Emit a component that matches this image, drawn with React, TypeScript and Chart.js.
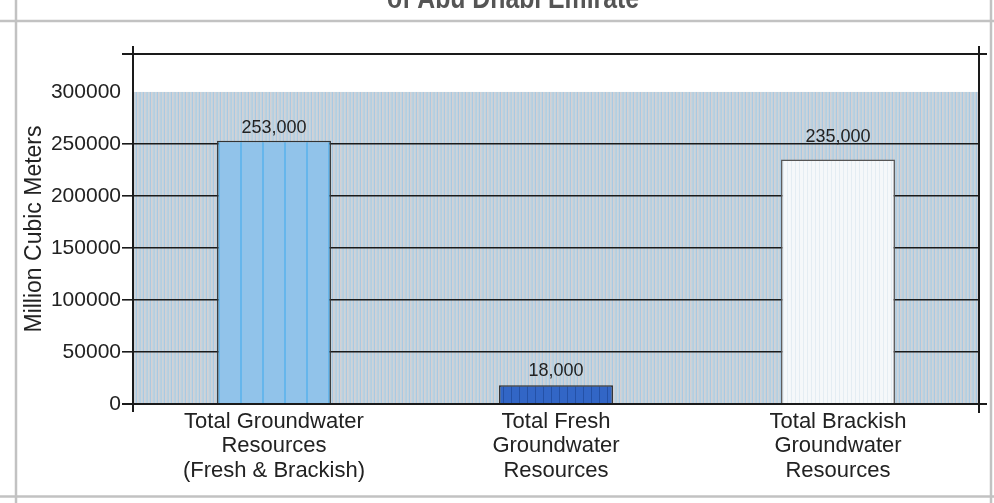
import React, { useEffect, useRef } from "react";
import { Chart, registerables } from "chart.js";

Chart.register(...registerables);

// ---- data ----
const categories: string[][] = [
  ["Total Groundwater", "Resources", "(Fresh & Brackish)"],
  ["Total Fresh", "Groundwater", "Resources"],
  ["Total Brackish", "Groundwater", "Resources"],
];
const values: number[] = [253000, 18000, 235000];
const yTicks: number[] = [0, 50000, 100000, 150000, 200000, 250000, 300000];
const yAxisMax = 336500;
const yTitle = "Million Cubic Meters";
const titleText = "of Abu Dhabi Emirate";

const FONT = "'Liberation Sans', Arial, Helvetica, sans-serif";

function stripePattern(ctx: CanvasRenderingContext2D, stripes: [string, number][]) {
  const w = stripes.reduce((s, [, n]) => s + n, 0);
  const c = document.createElement("canvas");
  c.width = w;
  c.height = 4;
  const g = c.getContext("2d")!;
  let x = 0;
  for (const [col, n] of stripes) {
    g.fillStyle = col;
    g.fillRect(x, 0, n, 4);
    x += n;
  }
  return ctx.createPattern(c, "repeat")!;
}

const fmt = (v: number) => v.toLocaleString("en-US");

export default function App() {
  const ref = useRef<HTMLCanvasElement>(null);

  useEffect(() => {
    const canvas = ref.current!;
    const ctx2 = canvas.getContext("2d")!;
    const bgPattern = stripePattern(ctx2, [
      ["#b3cfe2", 1], ["#cfd3d8", 1], ["#c3d3de", 1], ["#a9c9e2", 1],
      ["#d5d0d3", 1], ["#c6d4dd", 1], ["#bccfdd", 1],
    ]);
    const barPatterns = [
      stripePattern(ctx2, [["#91c3ea", 20], ["#66b6ec", 2]]),
      stripePattern(ctx2, [["#3266c6", 7], ["#2451a6", 1]]),
      stripePattern(ctx2, [["#f5f8fa", 3], ["#e4edf3", 1]]),
    ];
    const borderColors = ["#333333", "#2a2a2a", "#555555"];
    const labelOffsets = [13, 14, 23];

    const framePlugin = {
      id: "frame",
      beforeDraw(chart: any) {
        const { ctx, chartArea: a, scales } = chart;
        const y = scales.y;
        ctx.save();
        ctx.fillStyle = "#ffffff";
        ctx.fillRect(0, 0, chart.width, chart.height);
        // outer frame
        ctx.strokeStyle = "#c2c2c2";
        ctx.lineWidth = 2.5;
        ctx.beginPath();
        ctx.moveTo(16, 0); ctx.lineTo(16, chart.height);
        ctx.moveTo(991, 0); ctx.lineTo(991, chart.height);
        ctx.moveTo(0, 21); ctx.lineTo(chart.width, 21);
        ctx.moveTo(0, 496.5); ctx.lineTo(chart.width, 496.5);
        ctx.stroke();
        // title (cut at the top)
        ctx.fillStyle = "#555555";
        ctx.font = `bold 30px 'Liberation Sans Narrow', ${FONT}`;
        const w = ctx.measureText(titleText).width;
        ctx.translate(513, 8);
        ctx.scale(252 / w, 1);
        ctx.textAlign = "center";
        ctx.textBaseline = "alphabetic";
        ctx.fillText(titleText, 0, 0);
        ctx.restore();
        // striped plot background
        ctx.save();
        const yTop = y.getPixelForValue(yTicks[yTicks.length - 1]);
        ctx.fillStyle = bgPattern;
        ctx.fillRect(a.left, yTop, a.right - a.left, a.bottom - yTop);
        ctx.restore();
      },
      afterDatasetsDraw(chart: any) {
        const { ctx, chartArea: a } = chart;
        ctx.save();
        ctx.strokeStyle = "#1a1a1a";
        ctx.lineWidth = 2;
        ctx.beginPath();
        ctx.moveTo(a.left - 11, a.top); ctx.lineTo(a.right + 8, a.top);
        ctx.moveTo(a.left - 11, a.bottom); ctx.lineTo(a.right + 8, a.bottom);
        ctx.moveTo(a.left, a.top - 8); ctx.lineTo(a.left, a.bottom + 8);
        ctx.moveTo(a.right, a.top - 8); ctx.lineTo(a.right, a.bottom + 9);
        ctx.stroke();
        // value labels
        const meta = chart.getDatasetMeta(0);
        ctx.fillStyle = "#222222";
        ctx.font = `18px ${FONT}`;
        ctx.textAlign = "center";
        ctx.textBaseline = "middle";
        meta.data.forEach((bar: any, i: number) => {
          ctx.fillText(fmt(values[i]), bar.x, bar.y - labelOffsets[i]);
        });
        ctx.restore();
      },
    };

    const chart = new Chart(canvas, {
      type: "bar",
      data: {
        labels: categories,
        datasets: [
          {
            data: values,
            backgroundColor: barPatterns,
            borderColor: borderColors,
            borderWidth: 1.5,
            categoryPercentage: 1,
            barPercentage: 0.404,
          },
        ],
      },
      options: {
        responsive: false,
        animation: false,
        devicePixelRatio: 1,
        layout: { padding: { left: 0, right: 15, top: 54, bottom: 0 } },
        plugins: {
          legend: { display: false },
          tooltip: { enabled: false },
          title: { display: false },
        },
        scales: {
          x: {
            grid: { display: false, drawTicks: false },
            border: { display: false },
            ticks: {
              color: "#222222",
              font: { family: FONT, size: 22, lineHeight: 1.1 },
              padding: 6,
              maxRotation: 0,
              autoSkip: false,
            },
            afterFit: (s: any) => {
              s.height = 99;
            },
          },
          y: {
            min: 0,
            max: yAxisMax,
            afterBuildTicks: (s: any) => {
              s.ticks = yTicks.map((v) => ({ value: v }));
            },
            afterFit: (s: any) => {
              s.width = 133;
            },
            border: { display: false },
            grid: {
              color: (c: any) =>
                c.tick && (c.tick.value === yTicks[yTicks.length - 1] || c.tick.value === 0)
                  ? "rgba(0,0,0,0)"
                  : "#1a1a1a",
              lineWidth: 1.6,
              tickLength: 11,
            },
            ticks: {
              color: "#222222",
              font: { family: FONT, size: 21 },
              padding: 1,
              callback: (v: any) => String(v),
            },
            title: {
              display: true,
              text: yTitle,
              color: "#222222",
              font: { family: FONT, size: 23, lineHeight: 1.2 },
              padding: { top: 21, bottom: 0 },
            },
          },
        },
      },
      plugins: [framePlugin],
    });

    return () => chart.destroy();
  }, []);

  return (
    <div style={{ position: "fixed", left: 0, top: 0, width: 994, height: 503 }}>
      <canvas ref={ref} width={994} height={503} style={{ display: "block", width: 994, height: 503 }} />
    </div>
  );
}
